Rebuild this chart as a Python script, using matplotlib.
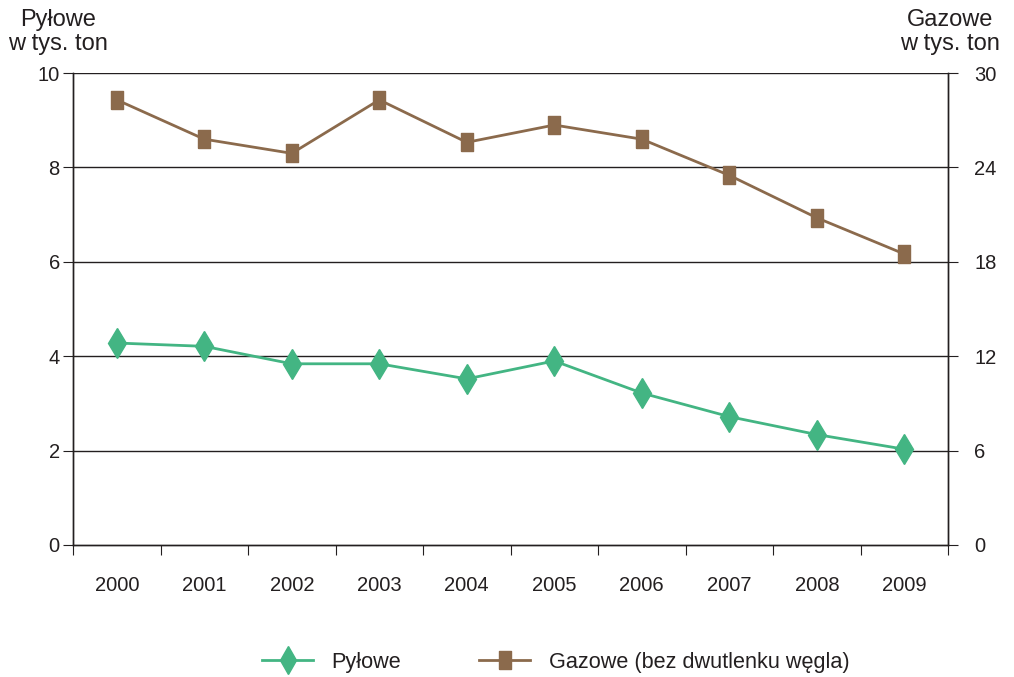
import matplotlib
matplotlib.use("Agg")
import matplotlib.pyplot as plt
from matplotlib.lines import Line2D

plt.rcParams['font.family'] = ['Liberation Sans', 'DejaVu Sans']

lata = ["2000", "2001", "2002", "2003", "2004",
        "2005", "2006", "2007", "2008", "2009"]
pylowe = [4.28, 4.21, 3.84, 3.84, 3.52, 3.90, 3.22, 2.72, 2.34, 2.03]
gazowe = [28.3, 25.8, 24.9, 28.3, 25.6, 26.7, 25.8, 23.5, 20.8, 18.5]

kolor_pyl = "#43b583"
kolor_gaz = "#8b6a4c"
kolor_txt = "#231f20"

# prostokat wyzszy niz szerszy (jak w oryginale)
prostokat = [(-1, -1.5), (1, -1.5), (1, 1.5), (-1, 1.5), (-1, -1.5)]

fig = plt.figure(figsize=(10.14, 6.77), dpi=100)
ax = fig.add_axes([0.072, 0.195, 0.863, 0.697])
ax2 = ax.twinx()

x = range(len(lata))
ax.plot(x, pylowe, color=kolor_pyl, lw=2, marker="d", ms=15, zorder=5)
ax2.plot(x, gazowe, color=kolor_gaz, lw=2, marker=prostokat, ms=13, zorder=5)

ax.set_xlim(-0.5, len(lata) - 0.5)
ax.set_ylim(0, 10)
ax2.set_ylim(0, 30)
ax.set_yticks([0, 2, 4, 6, 8, 10])
ax2.set_yticks([0, 6, 12, 18, 24, 30])

# siatka pozioma
for v in [2, 4, 6, 8, 10]:
    ax.axhline(v, color=kolor_txt, lw=1, zorder=1)

ax.set_xticks([i - 0.5 for i in range(len(lata) + 1)])
ax.set_xticklabels([])
ax.set_xticks(list(x), minor=True)
ax.set_xticklabels(lata, minor=True)
ax.tick_params(axis="x", which="major", length=7.5, direction="out", color=kolor_txt)
ax.tick_params(axis="x", which="minor", length=0, pad=22, labelsize=14.5, labelcolor=kolor_txt)
ax.tick_params(axis="y", length=7, direction="out", labelsize=14.5, pad=2.5,
               color=kolor_txt, labelcolor=kolor_txt)
ax2.tick_params(axis="y", length=7, direction="out", labelsize=14.5, pad=12,
                color=kolor_txt, labelcolor=kolor_txt)

for a in (ax, ax2):
    a.spines["top"].set_visible(False)
    for s in ["left", "right", "bottom"]:
        a.spines[s].set_color(kolor_txt)
        a.spines[s].set_linewidth(1)

fig.text(0.057, 0.987, "Pyłowe\nw tys. ton", ha="center", va="top",
         fontsize=17, color=kolor_txt, linespacing=1.15)
fig.text(0.937, 0.987, "Gazowe\nw tys. ton", ha="center", va="top",
         fontsize=17, color=kolor_txt, linespacing=1.15)

uchwyty = [Line2D([], [], color=kolor_pyl, lw=2, marker="d", ms=14),
           Line2D([], [], color=kolor_gaz, lw=2, marker=prostokat, ms=13)]
fig.legend(uchwyty, ["Pyłowe", "Gazowe (bez dwutlenku węgla)"], loc="center",
           bbox_to_anchor=(0.548, 0.022), ncol=2, frameon=False, fontsize=15.6,
           handlelength=2.35, handletextpad=0.85, columnspacing=3.6,
           borderpad=0, labelcolor=kolor_txt)

plt.savefig("out.png", dpi=100)
